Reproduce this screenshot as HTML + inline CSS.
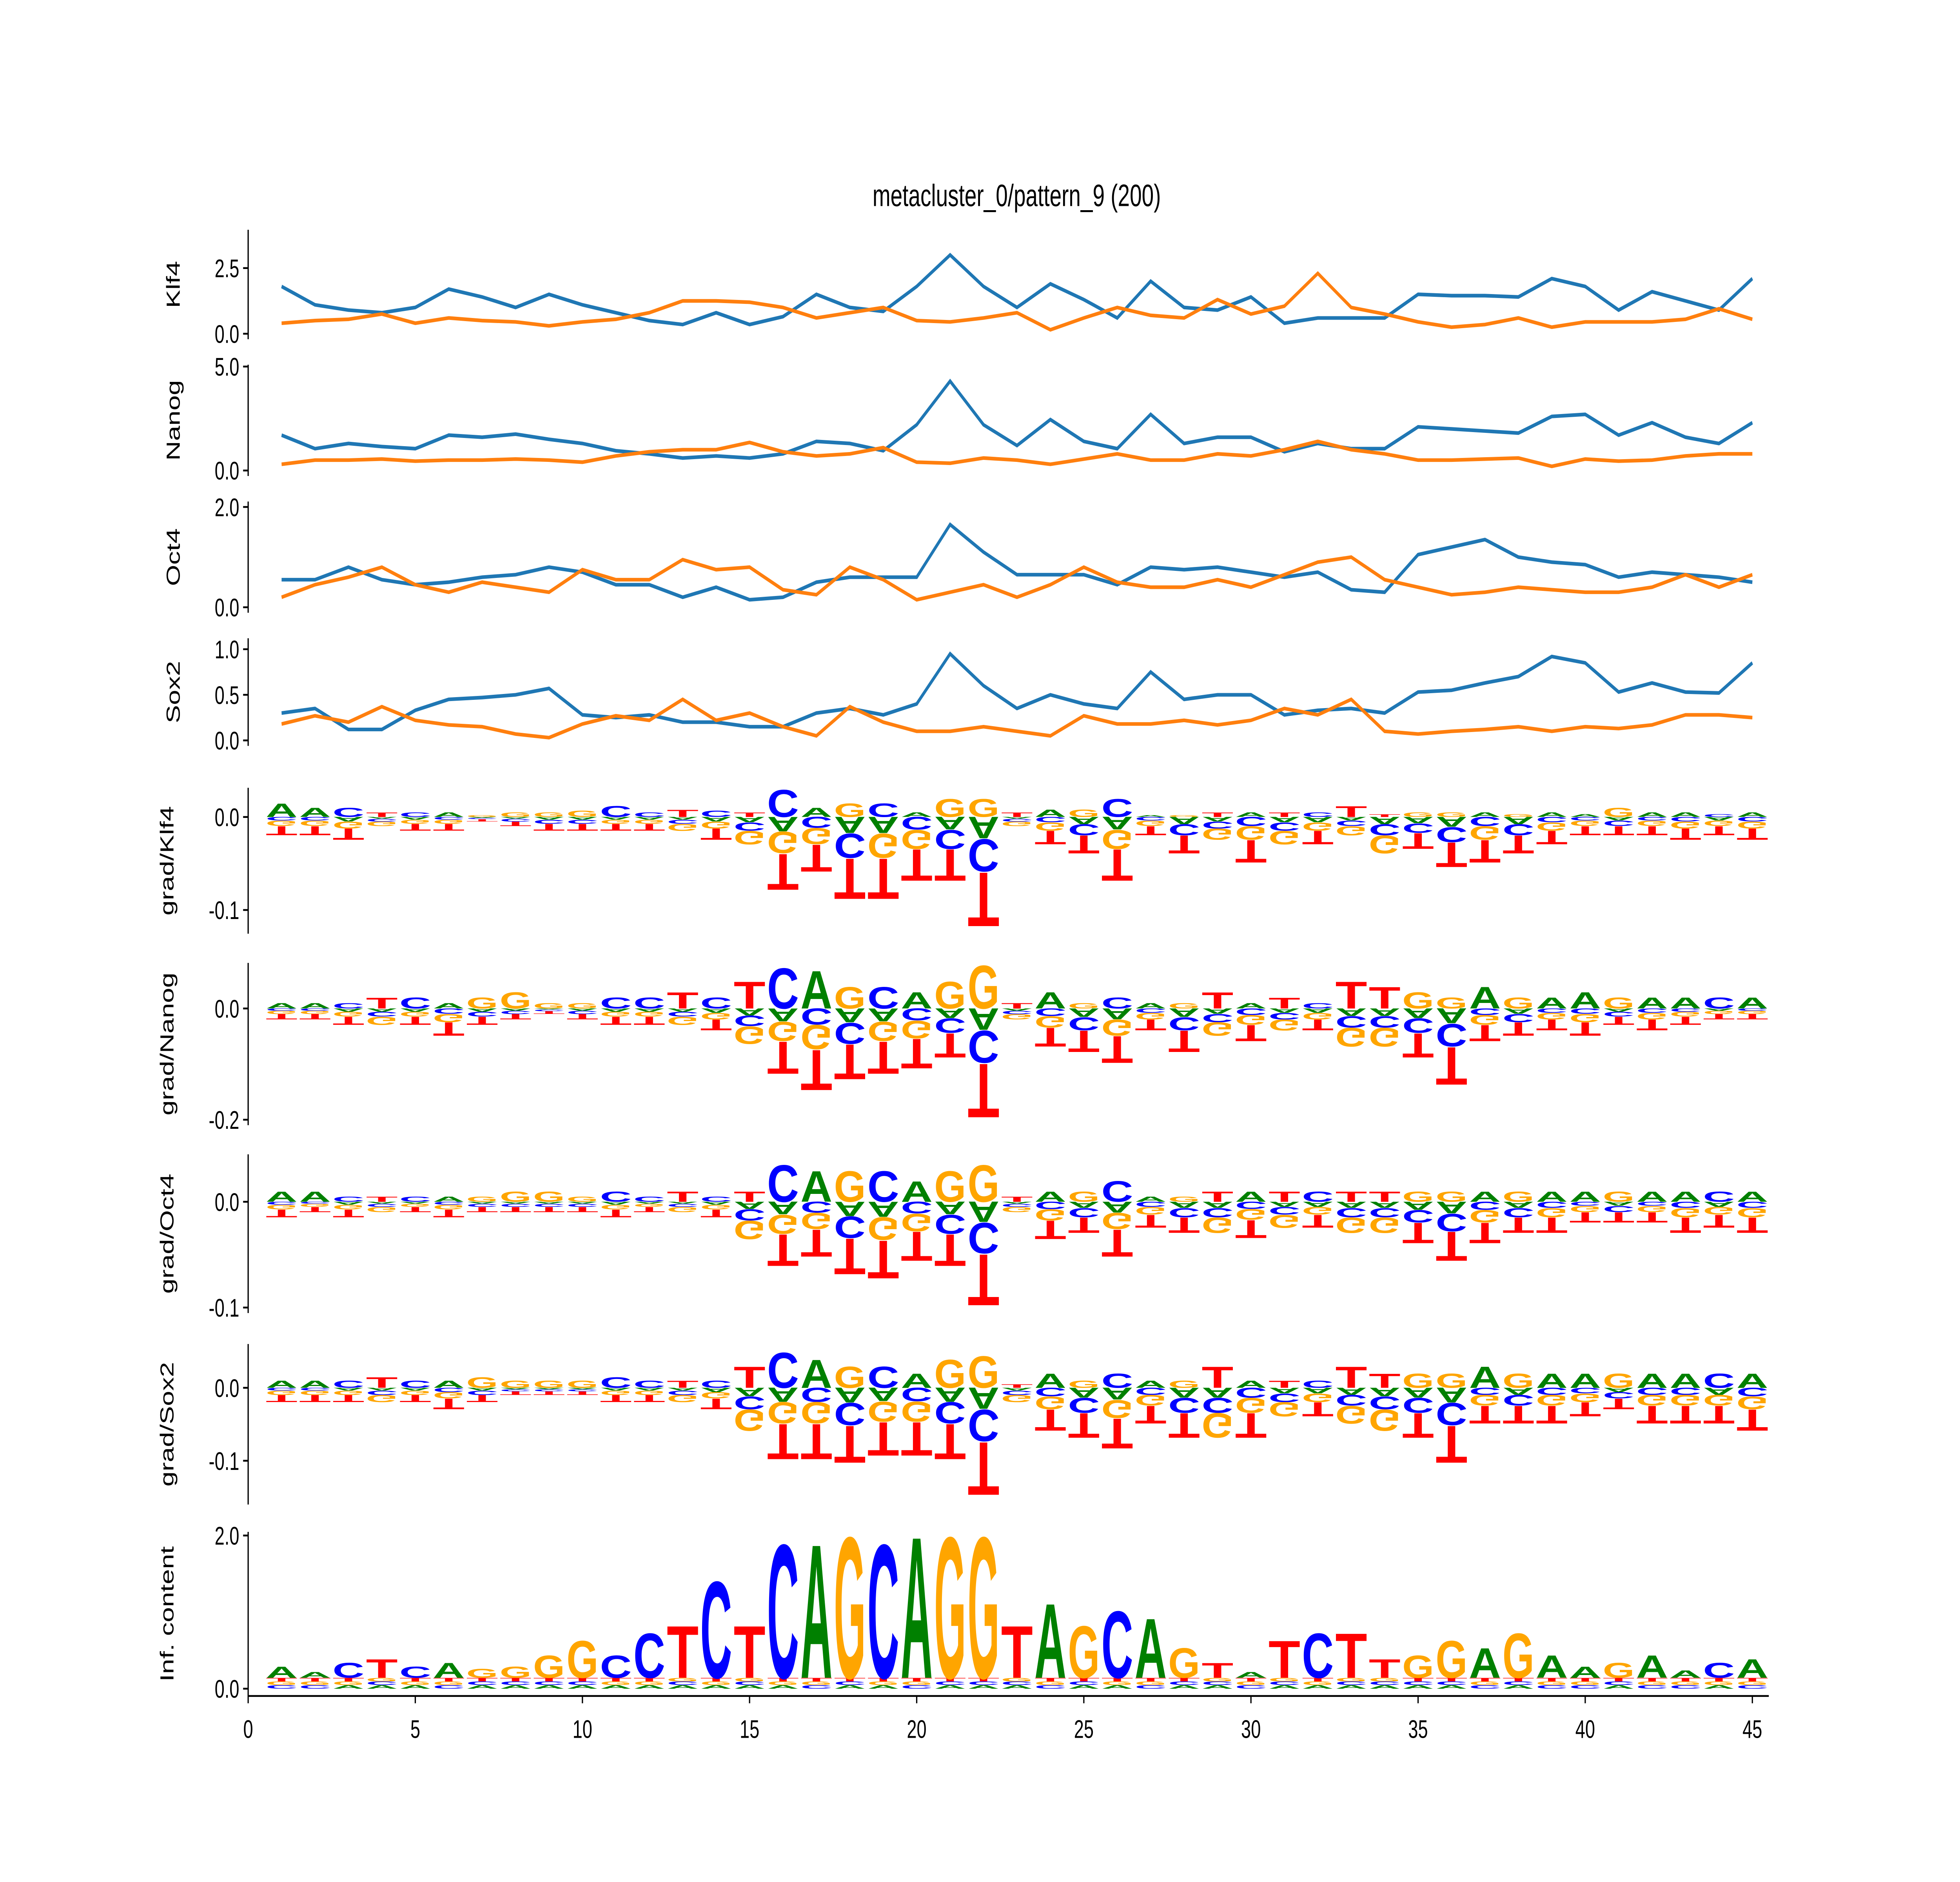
<!DOCTYPE html>
<html><head><meta charset="utf-8"><style>
html,body{margin:0;padding:0;background:#fff;overflow:hidden;width:100vw;height:100vh;}
svg{display:block;width:100vw;height:100vh;font-family:"Liberation Sans",sans-serif;}
</style></head><body>
<svg id="chart" viewBox="0 0 1548 1032" preserveAspectRatio="none" xmlns="http://www.w3.org/2000/svg">
<rect width="1548" height="1032" fill="#fff"/>
<text x="803" y="113" font-size="17" text-anchor="middle">metacluster_0/pattern_9 (200)</text>
<g id="g"></g>
</svg>
<script>
const positions=[1,2,3,4,5,6,7,8,9,10,11,12,13,14,15,16,17,18,19,20,21,22,23,24,25,26,27,28,29,30,31,32,33,34,35,36,37,38,39,40,41,42,43,44,45];
const xTicks=[0,5,10,15,20,25,30,35,40,45];
const klf4Blue=[1.8,1.1,0.9,0.8,1.0,1.7,1.4,1.0,1.5,1.1,0.8,0.5,0.35,0.8,0.35,0.65,1.5,1.0,0.85,1.8,3.0,1.8,1.0,1.9,1.3,0.6,2.0,1.0,0.9,1.4,0.4,0.6,0.6,0.6,1.5,1.45,1.45,1.4,2.1,1.8,0.9,1.6,1.25,0.9,2.1];
const klf4Orange=[0.4,0.5,0.55,0.75,0.4,0.6,0.5,0.45,0.3,0.45,0.55,0.8,1.25,1.25,1.2,1.0,0.6,0.8,1.0,0.5,0.45,0.6,0.8,0.15,0.6,1.0,0.7,0.6,1.3,0.75,1.05,2.3,1.0,0.75,0.45,0.25,0.35,0.6,0.25,0.45,0.45,0.45,0.55,0.95,0.55];
const nanogBlue=[1.7,1.05,1.3,1.15,1.05,1.7,1.6,1.75,1.5,1.3,0.95,0.8,0.6,0.7,0.6,0.8,1.4,1.3,0.95,2.2,4.3,2.2,1.2,2.45,1.4,1.05,2.7,1.3,1.6,1.6,0.9,1.3,1.05,1.05,2.1,2.0,1.9,1.8,2.6,2.7,1.7,2.3,1.6,1.3,2.3];
const nanogOrange=[0.3,0.5,0.5,0.55,0.45,0.5,0.5,0.55,0.5,0.4,0.7,0.9,1.0,1.0,1.35,0.9,0.7,0.8,1.1,0.4,0.35,0.6,0.5,0.3,0.55,0.8,0.5,0.5,0.8,0.7,1.0,1.4,1.0,0.8,0.5,0.5,0.55,0.6,0.2,0.55,0.45,0.5,0.7,0.8,0.8];
const oct4Blue=[0.55,0.55,0.8,0.55,0.45,0.5,0.6,0.65,0.8,0.7,0.45,0.45,0.2,0.4,0.15,0.2,0.5,0.6,0.6,0.6,1.65,1.1,0.65,0.65,0.65,0.45,0.8,0.75,0.8,0.7,0.6,0.7,0.35,0.3,1.05,1.2,1.35,1.0,0.9,0.85,0.6,0.7,0.65,0.6,0.5];
const oct4Orange=[0.2,0.45,0.6,0.8,0.45,0.3,0.5,0.4,0.3,0.75,0.55,0.55,0.95,0.75,0.8,0.35,0.25,0.8,0.55,0.15,0.3,0.45,0.2,0.45,0.8,0.5,0.4,0.4,0.55,0.4,0.65,0.9,1.0,0.55,0.4,0.25,0.3,0.4,0.35,0.3,0.3,0.4,0.65,0.4,0.65];
const sox2Blue=[0.3,0.35,0.12,0.12,0.33,0.45,0.47,0.5,0.57,0.28,0.25,0.28,0.2,0.2,0.15,0.15,0.3,0.35,0.28,0.4,0.95,0.6,0.35,0.5,0.4,0.35,0.75,0.45,0.5,0.5,0.28,0.33,0.35,0.3,0.53,0.55,0.63,0.7,0.92,0.85,0.53,0.63,0.53,0.52,0.85];
const sox2Orange=[0.18,0.27,0.2,0.37,0.22,0.17,0.15,0.07,0.03,0.18,0.27,0.22,0.45,0.22,0.3,0.15,0.05,0.37,0.2,0.1,0.1,0.15,0.1,0.05,0.27,0.18,0.18,0.22,0.17,0.22,0.35,0.28,0.45,0.1,0.07,0.1,0.12,0.15,0.1,0.15,0.13,0.17,0.28,0.28,0.25];
const consensus="AACTCAGGGGCCTCTCAGCAGGTAGCAGTATCTTGGAGAAGAACA";
const infoContent=[0.15,0.08,0.2,0.25,0.15,0.2,0.12,0.15,0.3,0.5,0.3,0.6,0.7,1.3,0.7,1.8,1.8,1.9,1.8,1.9,1.9,1.9,0.7,1.0,0.7,0.9,0.8,0.4,0.2,0.08,0.5,0.6,0.6,0.25,0.3,0.5,0.4,0.6,0.3,0.15,0.2,0.3,0.1,0.2,0.25];
const gKlf4Pos=[0.015,0.01,0.01,0.005,0.005,0.005,0.002,0.005,0.005,0.007,0.012,0.005,0.008,0.007,0.005,0.03,0.01,0.015,0.015,0.005,0.02,0.02,0.005,0.008,0.008,0.02,0.002,0.002,0.005,0.005,0.005,0.005,0.012,0.003,0.005,0.005,0.005,0.003,0.005,0.003,0.01,0.005,0.005,0.003,0.005];
const gKlf4Neg=[0.02,0.02,0.025,0.01,0.015,0.015,0.005,0.01,0.015,0.015,0.015,0.015,0.015,0.025,0.03,0.08,0.06,0.09,0.09,0.07,0.07,0.12,0.01,0.03,0.04,0.07,0.02,0.04,0.025,0.05,0.03,0.03,0.02,0.04,0.035,0.055,0.05,0.04,0.03,0.02,0.02,0.02,0.025,0.02,0.025];
const gNanogPos=[0.01,0.01,0.01,0.02,0.02,0.01,0.02,0.03,0.01,0.01,0.02,0.02,0.03,0.02,0.05,0.075,0.07,0.04,0.04,0.03,0.05,0.08,0.01,0.03,0.01,0.02,0.01,0.01,0.03,0.01,0.02,0.01,0.05,0.04,0.03,0.02,0.04,0.02,0.02,0.03,0.02,0.02,0.02,0.02,0.02];
const gNanogNeg=[0.02,0.02,0.03,0.03,0.03,0.05,0.03,0.02,0.01,0.02,0.03,0.03,0.03,0.04,0.065,0.12,0.15,0.13,0.12,0.11,0.09,0.2,0.02,0.07,0.08,0.1,0.04,0.08,0.05,0.06,0.04,0.04,0.07,0.07,0.09,0.14,0.06,0.05,0.04,0.05,0.03,0.04,0.03,0.02,0.02];
const gOct4Pos=[0.01,0.01,0.005,0.005,0.005,0.005,0.005,0.01,0.01,0.005,0.01,0.005,0.01,0.005,0.01,0.036,0.03,0.03,0.03,0.02,0.03,0.036,0.005,0.01,0.01,0.02,0.005,0.005,0.01,0.01,0.01,0.01,0.01,0.01,0.01,0.01,0.01,0.01,0.01,0.01,0.01,0.01,0.01,0.01,0.01];
const gOct4Neg=[0.015,0.01,0.015,0.01,0.01,0.015,0.01,0.01,0.01,0.01,0.015,0.01,0.01,0.015,0.036,0.062,0.053,0.07,0.074,0.057,0.062,0.1,0.01,0.036,0.03,0.053,0.025,0.03,0.03,0.035,0.025,0.025,0.03,0.03,0.04,0.057,0.04,0.03,0.03,0.02,0.02,0.02,0.03,0.025,0.03];
const gSox2Pos=[0.01,0.01,0.01,0.015,0.01,0.01,0.015,0.01,0.01,0.01,0.015,0.01,0.01,0.01,0.03,0.05,0.04,0.03,0.03,0.02,0.04,0.045,0.005,0.02,0.01,0.02,0.01,0.01,0.03,0.01,0.01,0.01,0.03,0.02,0.02,0.02,0.03,0.02,0.02,0.02,0.02,0.02,0.02,0.02,0.02];
const gSox2Neg=[0.02,0.02,0.02,0.02,0.02,0.03,0.02,0.01,0.01,0.01,0.02,0.02,0.02,0.03,0.06,0.1,0.1,0.105,0.095,0.095,0.1,0.15,0.02,0.06,0.07,0.085,0.05,0.07,0.07,0.07,0.04,0.04,0.05,0.06,0.07,0.105,0.05,0.05,0.05,0.04,0.03,0.05,0.05,0.05,0.06];

const NS="http://www.w3.org/2000/svg";
const G=document.getElementById('g');
const X0=196, XS=26.4;
function xs(v){return X0+XS*v;}
const COL={A:"#008000",C:"#0000ff",G:"#ffa500",T:"#ff0000"};
function mk(tag,attrs,parent){const e=document.createElementNS(NS,tag);for(const k in attrs)e.setAttribute(k,attrs[k]);(parent||G).appendChild(e);return e;}
function panel(name,label,top,bottom,zeroY,pxPerUnit,ticks,labelX){
  const g=mk('g',{});
  
  
  const sp=mk('line',{x1:X0,x2:X0,y1:top,y2:bottom,stroke:'#000','stroke-width':1},g);
  
  
  ticks.forEach(t=>{const y=zeroY-t*pxPerUnit;
    mk('line',{x1:X0-4,x2:X0,y1:y,y2:y,stroke:'#000','stroke-width':1},g);
    const tx=mk('text',{x:X0-7,y:y+5,'font-size':14,'text-anchor':'end'},g);
    tx.textContent=(t<0?'-':'')+Math.abs(t).toFixed(1);
    
    
  });
  const cy=(top+bottom)/2;
  const lb=mk('text',{x:labelX,y:cy,'font-size':15,'text-anchor':'middle',transform:`rotate(-90 ${labelX} ${cy})`},g);
  lb.textContent=label;
  
  
  return g;
}
function lineSeries(g,name,vals,zeroY,ppu,color){
  const d=vals.map((v,i)=>(i?'L':'M')+xs(positions[i]).toFixed(2)+','+(zeroY-v*ppu).toFixed(2)).join('');
  const p=mk('path',{d:d,fill:'none',stroke:color,'stroke-width':2},g);
  
  
}
function letter(g,ch,cx,yb,w,h){
  if(Math.abs(h)<0.3)return;
  const t=mk('text',{x:0,y:0,'font-size':100,'font-weight':'bold',fill:COL[ch],textLength:72,lengthAdjust:'spacingAndGlyphs',transform:`translate(${(cx-w/2).toFixed(2)},${yb.toFixed(2)}) scale(${(w/72).toFixed(4)},${(h/72).toFixed(4)})`},g);
  t.textContent=ch;
  
  
}
function others(c){return "ACGT".split('').filter(l=>l!==c);}
function gradLogo(g,pos,neg,zeroY,ppu){
  positions.forEach((p,i)=>{
    const cx=xs(p), w=XS*0.95, c=consensus[i];
    letter(g,c,cx,zeroY,w,pos[i]*ppu);
    const o=others(c), fr=[0.2,0.3,0.5];
    let y=zeroY;
    o.forEach((l,k)=>{const h=neg[i]*ppu*fr[k];letter(g,l,cx,y,w,-h);y+=h;});
  });
}
const P1=panel('klf4','Klf4',126,186,183,14.4,[0,2.5],142);
lineSeries(P1,'klf4-blue-line',klf4Blue,183,14.4,'#1f77b4');
lineSeries(P1,'klf4-orange-line',klf4Orange,183,14.4,'#ff7f0e');
const P2=panel('nanog','Nanog',200,261,258,11.4,[0,5],142);
lineSeries(P2,'nanog-blue-line',nanogBlue,258,11.4,'#1f77b4');
lineSeries(P2,'nanog-orange-line',nanogOrange,258,11.4,'#ff7f0e');
const P3=panel('oct4','Oct4',275,336,333,27.5,[0,2],142);
lineSeries(P3,'oct4-blue-line',oct4Blue,333,27.5,'#1f77b4');
lineSeries(P3,'oct4-orange-line',oct4Orange,333,27.5,'#ff7f0e');
const P4=panel('sox2','Sox2',350,409,406,50,[0,0.5,1],142);
lineSeries(P4,'sox2-blue-line',sox2Blue,406,50,'#1f77b4');
lineSeries(P4,'sox2-orange-line',sox2Orange,406,50,'#ff7f0e');
const P5=panel('grad-klf4','grad/Klf4',432,512,448,510,[0,-0.1],137);
gradLogo(P5,gKlf4Pos,gKlf4Neg,448,510);
const P6=panel('grad-nanog','grad/Nanog',528,617,553,305,[0,-0.2],137);
gradLogo(P6,gNanogPos,gNanogNeg,553,305);
const P7=panel('grad-oct4','grad/Oct4',633,720,659,580,[0,-0.1],137);
gradLogo(P7,gOct4Pos,gOct4Neg,659,580);
const P8=panel('grad-sox2','grad/Sox2',737,825,761,400,[0,-0.1],137);
gradLogo(P8,gSox2Pos,gSox2Neg,761,400);
const P9=panel('info','Inf. content',840,930,926,42,[0,2],137);
positions.forEach((p,i)=>{
  const cx=xs(p), w=XS*0.95, c=consensus[i];
  let y=926;
  others(c).forEach(l=>{letter(P9,l,cx,y,w,2);y-=2;});
  letter(P9,c,cx,y,w,infoContent[i]*42);
});
const xa=mk('line',{x1:X0,x2:1397,y1:930,y2:930,stroke:'#000','stroke-width':1});


xTicks.forEach(t=>{
  mk('line',{x1:xs(t),x2:xs(t),y1:930,y2:934,stroke:'#000','stroke-width':1});
  const tx=mk('text',{x:xs(t),y:953,'font-size':14,'text-anchor':'middle'});
  tx.textContent=t;
  
  
});
</script>
</body></html>
